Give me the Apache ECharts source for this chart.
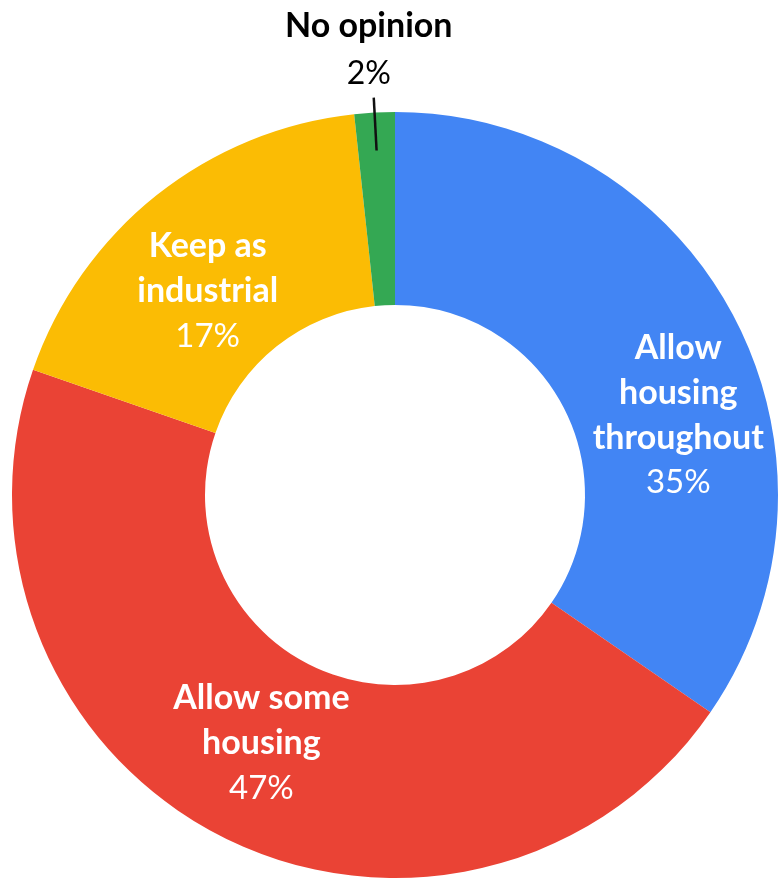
<!DOCTYPE html>
<html>
<head>
<meta charset="utf-8">
<script src="https://cdn.jsdelivr.net/npm/echarts@6/dist/echarts.min.js"></script>
<style>html,body{margin:0;padding:0;background:#fff}#c{width:778px;height:879px}</style>
</head>
<body>
<div id="c"></div>
<script>
const categories = ['Allow\nhousing\nthroughout', 'Allow some\nhousing', 'Keep as\nindustrial', 'No opinion'];
const values = [34.6, 45.7, 18.0, 1.7];
const percentLabels = ['35%', '47%', '17%', '2%'];
const colors = ['#4285F4', '#EA4335', '#FBBC04', '#34A853'];
const labelOffsets = [[27, 55], [-3, -10], [-7, 23], [0, 0]];

const FONT = 'Lato, "Open Sans", sans-serif';
const chart = echarts.init(document.getElementById('c'));
const fmt = p => '{b|' + p.name.split('\n').join('}\n{b|') + '}\n{p|' + percentLabels[p.dataIndex] + '}';

const mainData = categories.map((name, i) => {
  const item = { name: name, value: values[i], itemStyle: { color: colors[i] } };
  if (i < 3) {
    item.label = { show: true, position: 'inside', offset: labelOffsets[i], color: '#fff',
      rich: {
        b: { color: '#fff', fontFamily: FONT, fontWeight: 'bold', fontSize: 34, lineHeight: 45, align: 'center' },
        p: { color: '#fff', fontFamily: FONT, fontWeight: 'normal', fontSize: 33, lineHeight: 45, align: 'center' }
      }
    };
  } else {
    item.label = { show: false };
    item.labelLine = { show: false };
  }
  return item;
});

// overlay series (transparent) used only to draw the outside label whose leader line starts inside the ring
const overlayData = categories.map((name, i) => {
  const item = { name: name, value: values[i], itemStyle: { color: 'rgba(0,0,0,0)' } };
  if (i === 3) {
    item.label = { show: true, position: 'outside', color: '#000',
      rich: {
        b: { color: '#000', fontFamily: FONT, fontWeight: 'bold', fontSize: 34, lineHeight: 48, align: 'center' },
        p: { color: '#000', fontFamily: FONT, fontWeight: 'normal', fontSize: 32, lineHeight: 48, align: 'center' }
      }
    };
    item.labelLine = { show: true, length: 53, length2: 0, lineStyle: { color: '#111', width: 2.5 } };
  } else {
    item.label = { show: false };
    item.labelLine = { show: false };
  }
  return item;
});

chart.setOption({
  animation: false,
  series: [{
    type: 'pie',
    center: [395, 495],
    radius: [190, 383],
    startAngle: 90,
    clockwise: true,
    avoidLabelOverlap: false,
    data: mainData,
    label: { formatter: fmt },
    emphasis: { disabled: true },
    silent: true
  }, {
    type: 'pie',
    center: [395, 495],
    radius: [190, 345],
    startAngle: 90,
    clockwise: true,
    avoidLabelOverlap: false,
    data: overlayData,
    label: { formatter: fmt },
    labelLayout: function (params) {
      if (params.dataIndex === 3) return { align: 'center', verticalAlign: 'bottom' };
    },
    emphasis: { disabled: true },
    silent: true,
    z: 3
  }]
});
</script>
</body>
</html>
